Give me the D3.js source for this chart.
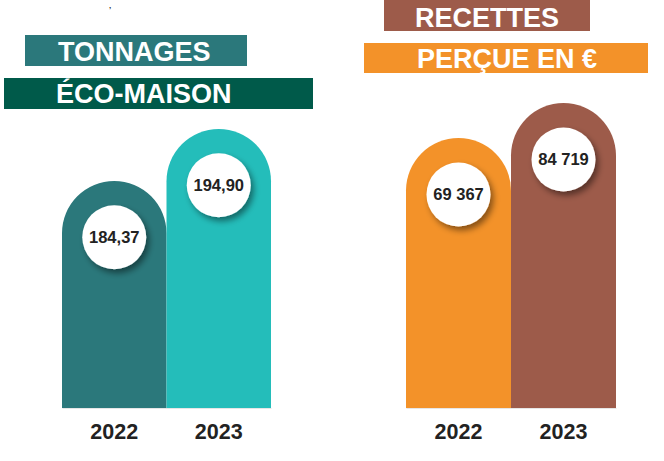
<!DOCTYPE html>
<html>
<head>
<meta charset="utf-8">
<script src="https://cdn.jsdelivr.net/npm/d3@7"></script>
<style>
  html, body { margin: 0; padding: 0; background: #ffffff; }
  svg { display: block; }
  text { font-family: "Liberation Sans", Arial, Helvetica, sans-serif; font-weight: bold; }
</style>
</head>
<body>
<svg id="chart" width="664" height="461"></svg>
<script>
// ---- Data ----
const years = ["2022", "2023"];
const tonnages = [184.37, 194.90];
const tonnageLabels = ["184,37", "194,90"];
const recettes = [69367, 84719];
const recetteLabels = ["69 367", "84 719"];
const tonnageColors = ["#2b787b", "#24bdba"];
const recetteColors = ["#f39229", "#9d5b4a"];
const titlesLeft = ["TONNAGES", "ÉCO-MAISON"];
const titlesRight = ["RECETTES", "PERÇUE EN €"];
// value domains (axis is not zero-based in the original)
const tonnageDomain = [138.4, 194.9];
const recetteDomain = [-49060, 84719];

const svg = d3.select("#chart");
const defs = svg.append("defs");
const f = defs.append("filter").attr("id", "shadow")
  .attr("x", "-50%").attr("y", "-50%").attr("width", "200%").attr("height", "200%");
f.append("feDropShadow").attr("dx", 3).attr("dy", 4).attr("stdDeviation", 3)
  .attr("flood-color", "#000").attr("flood-opacity", 0.45);

// small glyph at top
svg.append("text").attr("x", 109).attr("y", 8).attr("font-size", 8).attr("fill", "#333").text(",");

// ---- Titles ----
const titleBoxes = [
  {x: 25, y: 35, w: 222, h: 31, fill: "#2b787b", text: titlesLeft[0], tx: 58, ty: 61},
  {x: 4, y: 78, w: 309, h: 31, fill: "#005a4a", text: titlesLeft[1], tx: 56, ty: 103},
  {x: 384, y: 0, w: 206, h: 31, fill: "#9d5b4a", text: titlesRight[0], tx: 415, ty: 27},
  {x: 364, y: 43, w: 284, h: 30, fill: "#f39229", text: titlesRight[1], tx: 417, ty: 68}
];
const tg = svg.append("g");
tg.selectAll("rect").data(titleBoxes).join("rect")
  .attr("x", d => d.x).attr("y", d => d.y).attr("width", d => d.w).attr("height", d => d.h)
  .attr("fill", d => d.fill);
tg.selectAll("text").data(titleBoxes).join("text")
  .attr("x", d => d.tx).attr("y", d => d.ty).attr("fill", "#fff")
  .attr("font-size", 27).text(d => d.text);

// ---- Charts ----
const baseY = 408;
function drawChart(values, labels, colors, domain, xRange, topY) {
  const x = d3.scaleBand().domain(years).range(xRange).padding(0);
  const y = d3.scaleLinear().domain(domain).range([baseY, topY]);
  const r = x.bandwidth() / 2;
  const g = svg.append("g");
  const data = years.map((yr, i) => ({yr, v: values[i], label: labels[i], color: colors[i]}));

  g.selectAll("path.bar").data(data).join("path")
    .attr("class", "bar")
    .attr("fill", d => d.color)
    .attr("d", d => {
      const x0 = x(d.yr), x1 = x0 + x.bandwidth(), top = y(d.v);
      return `M${x0},${baseY} L${x0},${top + r} A${r},${r} 0 0 1 ${x1},${top + r} L${x1},${baseY} Z`;
    });

  g.selectAll("circle").data(data).join("circle")
    .attr("cx", d => x(d.yr) + r)
    .attr("cy", d => y(d.v) + r + 4)
    .attr("r", 32)
    .attr("fill", "#fff")
    .attr("filter", "url(#shadow)");

  g.selectAll("text.val").data(data).join("text")
    .attr("class", "val")
    .attr("x", d => x(d.yr) + r)
    .attr("y", d => y(d.v) + r + 4)
    .attr("dy", "0.35em")
    .attr("text-anchor", "middle")
    .attr("font-size", 16.5)
    .attr("fill", "#222")
    .text(d => d.label);

  const axis = d3.axisBottom(x).tickSize(0).tickPadding(16);
  const ax = g.append("g").attr("transform", `translate(0,${baseY})`).call(axis);
  ax.select(".domain").attr("stroke", "#e6e6e6").attr("stroke-width", 1.2);
  ax.selectAll("text").attr("font-size", 21.5).attr("fill", "#222")
    .attr("font-family", "\"Liberation Sans\", Arial, sans-serif").attr("font-weight", "bold");
}

drawChart(tonnages, tonnageLabels, tonnageColors, tonnageDomain, [62, 271], 129);
drawChart(recettes, recetteLabels, recetteColors, recetteDomain, [406, 616], 103);
</script>
</body>
</html>
